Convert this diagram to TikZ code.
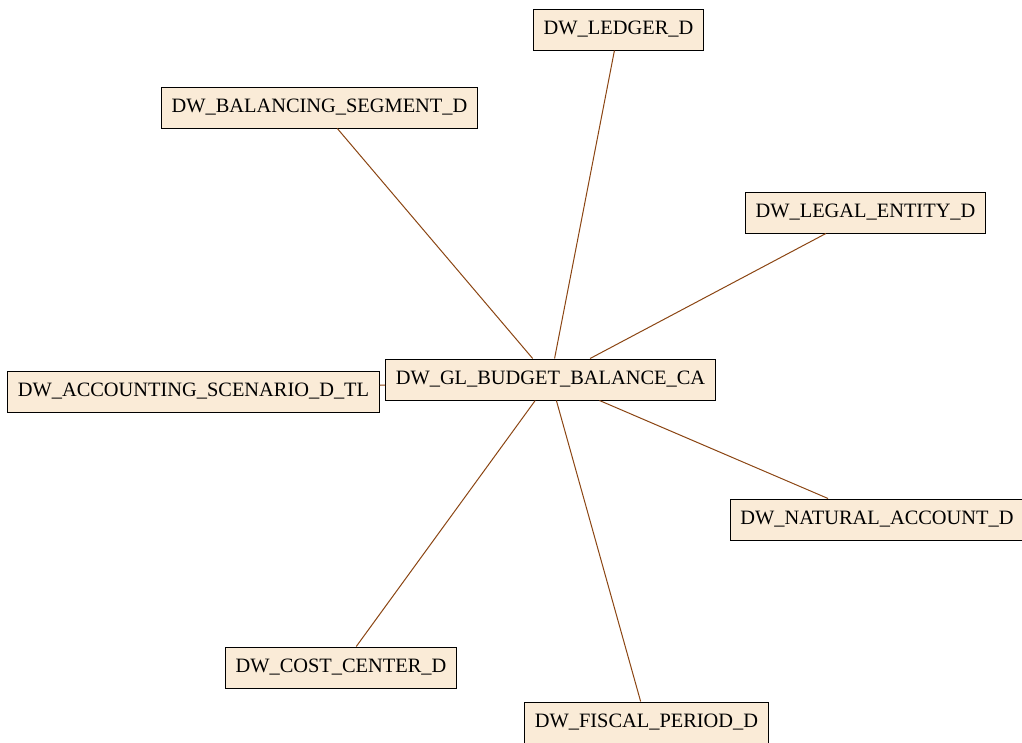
\documentclass[tikz,border=0pt]{standalone}
\usepackage{fontspec}
\setmainfont{Liberation Serif}
\definecolor{boxfill}{HTML}{FAEBD7}
\definecolor{linkbrown}{HTML}{8B4513}
\tikzset{every picture/.style={line width=0.75pt}}
\tikzset{
  tablebox/.style={draw, fill=boxfill, inner xsep=7.6pt, inner ysep=0pt, minimum height=30.75pt, font=\fontsize{15.3}{18}\selectfont},
  tablelink/.style={draw=linkbrown, line width=0.75pt}
}

\begin{document}
\begin{tikzpicture}[x=0.75pt,y=0.75pt,yscale=-1,xscale=1]
\useasboundingbox (0,0) rectangle (1022,743);

% Text Node
\node [tablebox] (budget) at (550.5,379.5) {DW\_GL\_BUDGET\_BALANCE\_CA};
% Text Node
\node [tablebox] (ledger) at (618.5,29.5) {DW\_LEDGER\_D};
% Text Node
\node [tablebox] (balseg) at (319.5,107.5) {DW\_BALANCING\_SEGMENT\_D};
% Text Node
\node [tablebox] (legal) at (865.5,212.5) {DW\_LEGAL\_ENTITY\_D};
% Text Node
\node [tablebox] (scenario) at (193.5,391.5) {DW\_ACCOUNTING\_SCENARIO\_D\_TL};
% Text Node
\node [tablebox] (natacct) at (877,519.5) {DW\_NATURAL\_ACCOUNT\_D};
% Text Node
\node [tablebox] (costctr) at (341,667.5) {DW\_COST\_CENTER\_D};
% Text Node
\node [tablebox] (fiscal) at (646.5,722.5) {DW\_FISCAL\_PERIOD\_D};

%Straight Lines
\draw [tablelink] (budget) -- (ledger) ;
\draw [tablelink] (budget) -- (balseg) ;
\draw [tablelink] (budget) -- (legal) ;
\draw [tablelink] (budget) -- (scenario) ;
\draw [tablelink] (budget) -- (natacct) ;
\draw [tablelink] (budget) -- (costctr) ;
\draw [tablelink] (budget) -- (fiscal) ;
\end{tikzpicture}
\end{document}
